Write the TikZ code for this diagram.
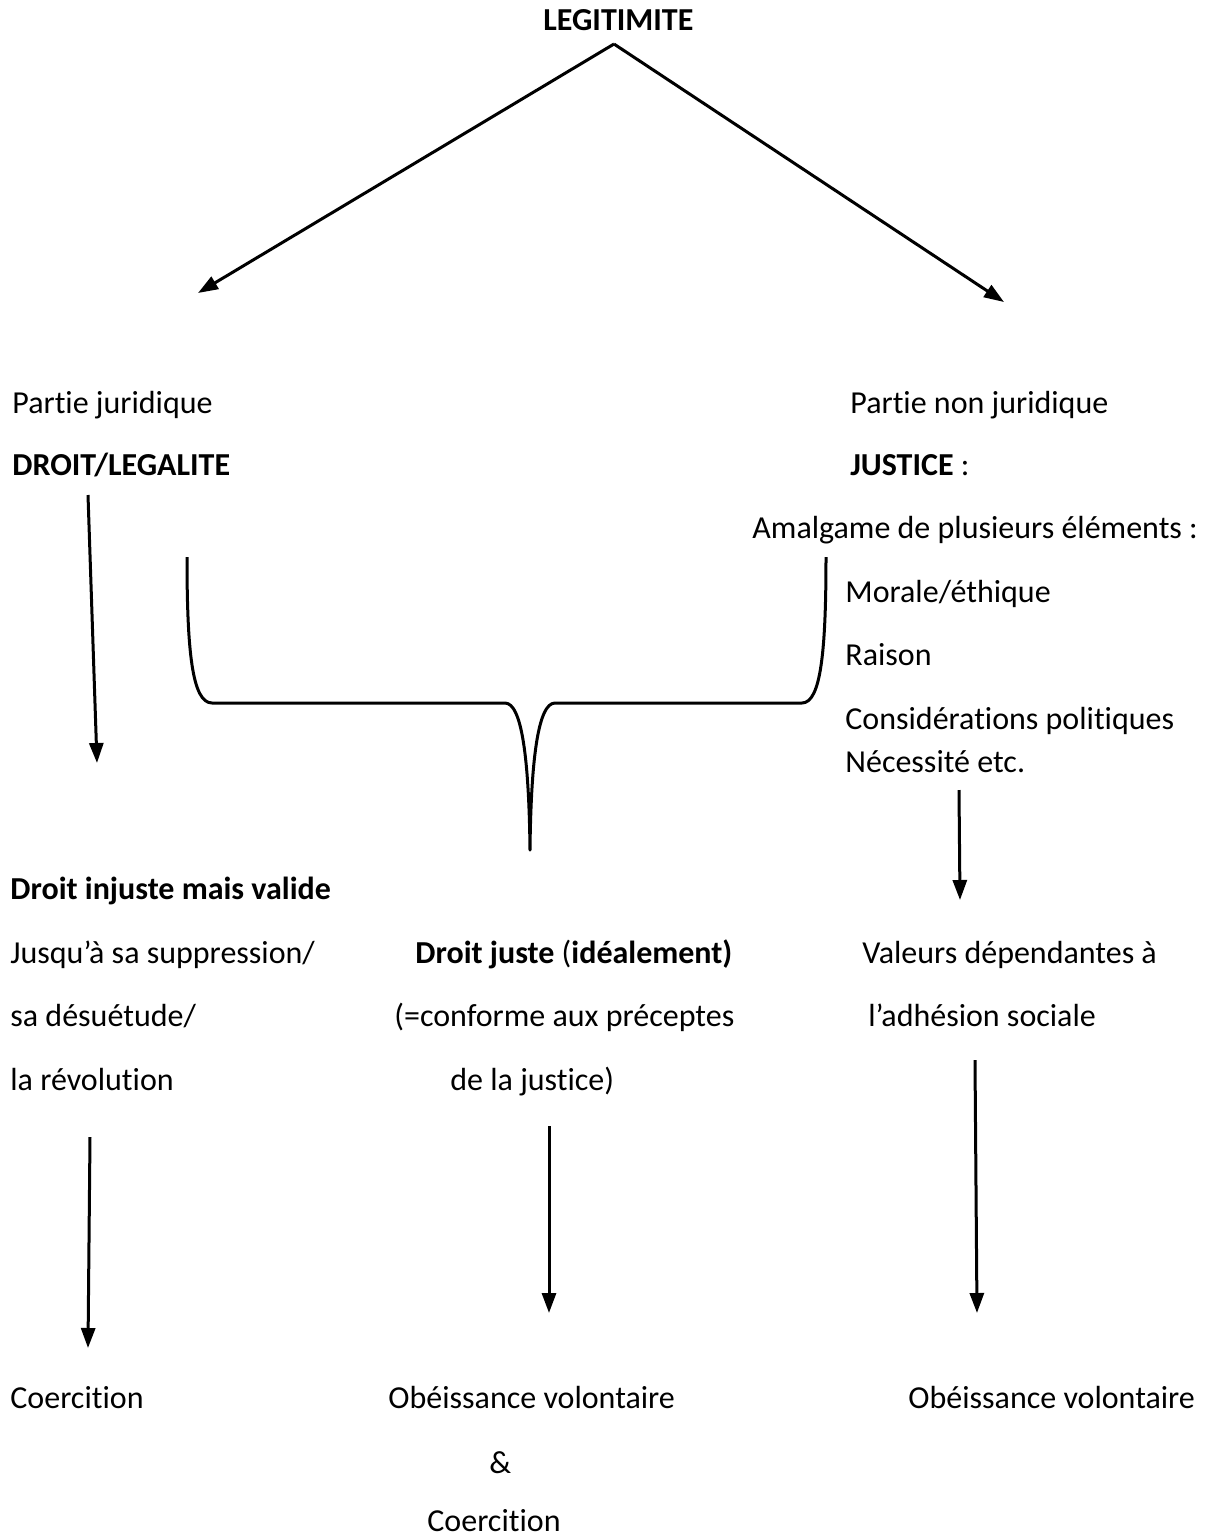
\documentclass[tikz,border=0pt]{standalone}
\usepackage{fontspec}
\setmainfont{Carlito}[Ligatures=NoCommon]
\usetikzlibrary{arrows.meta}
\begin{document}
\begin{tikzpicture}[x=0.5pt,y=-0.5pt,
  txt/.style={anchor=base west,inner sep=0pt,font=\fontsize{16}{19}\selectfont},
  conn/.style={line width=1.5pt,-{Triangle[length=10pt,width=7pt]}},
  bracestyle/.style={line width=1.5pt,line join=round,line cap=butt}]
\useasboundingbox (0,0) rectangle (1208,1538);
% texts
\node[txt] (legit) at (543,30) {\textbf{LEGITIMITE}};
\node[txt] (pj) at (12,413) {Partie juridique};
\node[txt] (droit) at (12,475) {\textbf{DROIT/LEGALITE}};
\node[txt] (pnj) at (850,413) {Partie non juridique};
\node[txt] (justice) at (850,475) {\textbf{JUSTICE} :};
\node[txt] (amal) at (752,538) {Amalgame de plusieurs éléments :};
\node[txt] (morale) at (845,602) {Morale/éthique};
\node[txt] (raison) at (845,665) {Raison};
\node[txt] (consid) at (845,729) {Considérations politiques};
\node[txt] (necess) at (845,772) {Nécessité etc.};
\node[txt] (dinj) at (10,899) {\textbf{Droit injuste mais valide}};
\node[txt] (jusq) at (10,963) {Jusqu’à sa suppression/};
\node[txt] (desu) at (10,1026) {sa désuétude/};
\node[txt] (revo) at (10,1090) {la révolution};
\node[txt] (djuste) at (415,963) {\textbf{Droit juste} (\textbf{idéalement)}};
\node[txt] (conf) at (394,1026) {(=conforme aux préceptes};
\node[txt] (dlj) at (450,1090) {de la justice)};
\node[txt] (valeurs) at (862,963) {Valeurs dépendantes à};
\node[txt] (adh) at (868,1026) {l’adhésion sociale};
\node[txt] (coer1) at (10,1408) {Coercition};
\node[txt] (obe1) at (388,1408) {Obéissance volontaire};
\node[txt] (amp) at (489,1473) {\&};
\node[txt] (coer2) at (427,1531) {Coercition};
\node[txt] (obe2) at (908,1408) {Obéissance volontaire};
% connector end points
\coordinate (apex) at (614,44);
\coordinate (tipL) at (198,293);
\coordinate (tipR) at (1004,302);
\coordinate (a1s) at (88,495);
\coordinate (a1e) at (97,763);
\coordinate (a2s) at (959,790);
\coordinate (a2e) at (960,900);
\coordinate (a3s) at (90,1137);
\coordinate (a3e) at (88,1348);
\coordinate (a4s) at (549,1126);
\coordinate (a4e) at (549,1313);
\coordinate (a5s) at (975,1060);
\coordinate (a5e) at (977,1313);
% arrows
\draw[conn] (apex) -- (tipL);
\draw[conn] (apex) -- (tipR);
\draw[conn] (a1s) -- (a1e);
\draw[conn] (a2s) -- (a2e);
\draw[conn] (a3s) -- (a3e);
\draw[conn] (a4s) -- (a4e);
\draw[conn] (a5s) -- (a5e);
% brace
\coordinate (bl) at (187,557);
\coordinate (br) at (826,557);
\coordinate (bp) at (530,850);
\draw[bracestyle] (bl) .. controls (187,650) and (192,703) .. (212,703)
  -- (505,703) .. controls (522,703) and (529,760) .. (bp)
  .. controls (531,760) and (538,703) .. (555,703)
  -- (802,703) .. controls (821,703) and (826,650) .. (br);
\end{tikzpicture}
\end{document}
